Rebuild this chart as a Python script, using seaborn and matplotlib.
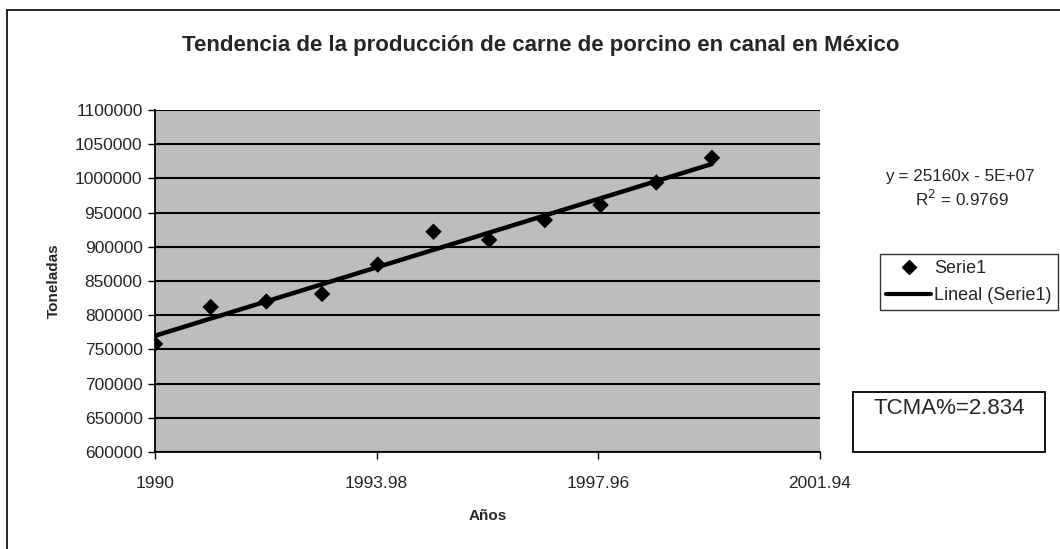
"""
Tendencia de la produccion de carne de porcino en canal en Mexico.
Excel-style scatter with linear trendline.
"""

import numpy as np
import pandas as pd
import matplotlib.pyplot as plt
import seaborn as sns
from matplotlib.lines import Line2D
from matplotlib.patches import Rectangle

years = [1990, 1991, 1992, 1993, 1994, 1995, 1996, 1997, 1998, 1999, 2000]
toneladas = [758000, 812000, 820000, 831000, 874000, 922000, 910000,
             939000, 961000, 994000, 1030000]
x_ticks = [1990, 1993.98, 1997.96, 2001.94]
y_ticks = list(range(600000, 1100001, 50000))

df = pd.DataFrame({"Años": years, "Toneladas": toneladas})

sns.set_theme(style="white")
plt.rcParams["font.family"] = ["Liberation Sans", "DejaVu Sans"]

W, H = 1060, 549
fig = plt.figure(figsize=(W / 100, H / 100), dpi=100)
ax = fig.add_axes([155 / W, 1 - 452 / H, 665 / W, 342 / H])
ax.set_facecolor("#bdbdbd")

# horizontal gridlines
for yv in y_ticks:
    ax.axhline(yv, color="black", lw=1.5, zorder=1)

sns.regplot(data=df, x="Años", y="Toneladas", ax=ax, ci=None, truncate=True,
            marker="D",
            scatter_kws={"s": 70, "color": "black", "edgecolor": "none",
                         "alpha": 1, "zorder": 3},
            line_kws={"color": "black", "lw": 3.2, "zorder": 2})

ax.set_xlim(1990, 2001.94)
ax.set_ylim(600000, 1100000)
ax.set_xticks(x_ticks)
ax.set_xticklabels(["1990", "1993.98", "1997.96", "2001.94"])
ax.set_yticks(y_ticks)
ax.set_yticklabels([str(v) for v in y_ticks])
ax.tick_params(axis="both", labelsize=12.5, length=5, width=1, color="black",
               direction="out", bottom=True, left=True)
ax.tick_params(axis="x", pad=12)
ax.tick_params(axis="y", pad=4)
for side in ["left", "bottom"]:
    ax.spines[side].set_color("black")
    ax.spines[side].set_linewidth(1.3)
for side in ["right", "top"]:
    ax.spines[side].set_visible(False)

ax.set_xlabel("Años", fontsize=11, fontweight="bold", labelpad=13)
ax.set_ylabel("Toneladas", fontsize=11, fontweight="bold", labelpad=10)

fig.text(541 / W, 1 - 46 / H,
         "Tendencia de la producción de carne de porcino en canal en México",
         ha="center", va="center", fontsize=16, fontweight="bold")

fig.text(960 / W, 1 - 176 / H, "y = 25160x - 5E+07",
         ha="center", va="center", fontsize=12.3)
fig.text(962 / W, 1 - 199 / H, r"R$^2$ = 0.9769",
         ha="center", va="center", fontsize=12.3)

handles = [
    Line2D([], [], color="black", marker="D", markersize=7.5, lw=0),
    Line2D([], [], color="black", lw=3),
]
leg = ax.legend(handles, ["Serie1", "Lineal (Serie1)"], loc="center left",
                bbox_to_anchor=(880 / W, 1 - 282 / H),
                bbox_transform=fig.transFigure, fontsize=13, frameon=True,
                fancybox=False, edgecolor="black", borderpad=0.35,
                borderaxespad=0, handlelength=2.5, handletextpad=0.15,
                labelspacing=0.55)
leg.get_frame().set_linewidth(1.0)

fig.patches.append(Rectangle((853 / W, 1 - 452 / H), 192 / W, 60 / H,
                             transform=fig.transFigure, fill=False,
                             edgecolor="black", lw=1.3))
fig.text(949 / W, 1 - 409 / H, "TCMA%=2.834", ha="center", va="center",
         fontsize=16)

# chart border (right and bottom edges fall outside the scan)
fig.add_artist(Line2D([7 / W, 1], [1 - 10 / H, 1 - 10 / H],
                      transform=fig.transFigure, color="black", lw=1.2))
fig.add_artist(Line2D([7 / W, 7 / W], [0, 1 - 10 / H],
                      transform=fig.transFigure, color="black", lw=1.2))

fig.savefig("out.png", dpi=100)
